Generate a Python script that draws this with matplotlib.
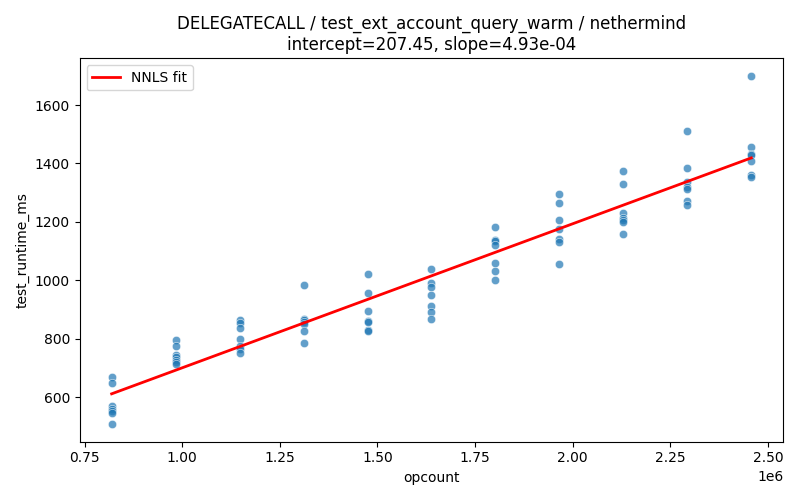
import numpy as np
import matplotlib
matplotlib.use("Agg")
import matplotlib.pyplot as plt
import seaborn as sns

# opcount groups (multiples of 163840)
opcounts = [819200, 983040, 1146880, 1310720, 1474560, 1638400,
            1802240, 1966080, 2129920, 2293760, 2457600]

# runtimes per opcount group
runtimes = [
    [670, 650, 568, 560, 552, 545, 507],
    [794, 775, 744, 738, 727, 720, 713],
    [865, 855, 835, 800, 774, 765, 751],
    [985, 869, 864, 856, 849, 828, 786],
    [1023, 958, 896, 862, 856, 829, 825],
    [1040, 990, 978, 951, 912, 893, 866],
    [1184, 1138, 1133, 1120, 1060, 1033, 1002],
    [1294, 1265, 1205, 1174, 1143, 1131, 1055],
    [1373, 1328, 1232, 1213, 1206, 1201, 1157],
    [1510, 1386, 1335, 1321, 1314, 1273, 1257],
    [1700, 1455, 1434, 1430, 1408, 1362, 1354],
]

intercept = 207.45
slope = 4.93e-4

x = np.repeat(opcounts, [len(r) for r in runtimes])
y = np.concatenate(runtimes)

fig, ax = plt.subplots(figsize=(8, 5), dpi=100)
sns.scatterplot(x=x, y=y, alpha=0.7, ax=ax)

xs = np.array([min(opcounts), max(opcounts)])
ax.plot(xs, intercept + slope * xs, color="red", lw=2, label="NNLS fit")

ax.set_xlabel("opcount")
ax.set_ylabel("test_runtime_ms")
ax.set_title("DELEGATECALL / test_ext_account_query_warm / nethermind\n"
             f"intercept={intercept:.2f}, slope={slope:.2e}")
ax.legend(loc="upper left")
fig.tight_layout()
fig.savefig("out.png")
